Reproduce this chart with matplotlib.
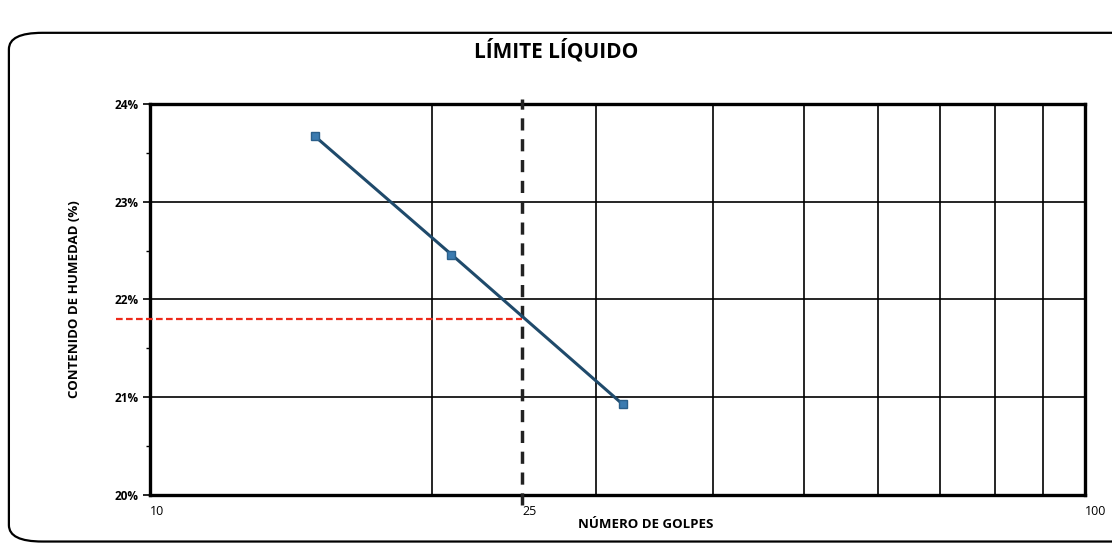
import matplotlib.pyplot as plt
from matplotlib.patches import FancyBboxPatch
from matplotlib.ticker import FixedLocator, NullFormatter

# data
golpes = [15, 21, 32]
humedad = [23.67, 22.46, 20.93]
n_ref = 25
limite_liquido = 21.8

x_grid = [20, 30, 40, 50, 60, 70, 80, 90]
y_ticks = [20, 21, 22, 23, 24]
y_labels = ['20%', '21%', '22%', '23%', '24%']

plt.rcParams['font.family'] = ['Open Sans', 'DejaVu Sans']

fig = plt.figure(figsize=(11.12, 5.47), dpi=100)
fig.patches.append(FancyBboxPatch((0.008, 0.01), 1.05, 0.93, boxstyle='round,pad=0,rounding_size=0.03',
                                  transform=fig.transFigure, fill=False, ec='black', lw=1.6))
fig.text(0.5, 0.908, 'LÍMITE LÍQUIDO', ha='center', va='center', fontsize=15, fontweight='bold')

ax = fig.add_axes([0.135, 0.095, 0.841, 0.715])
ax.set_xscale('log')
ax.set_xlim(10, 100)
ax.set_ylim(20, 24)

for xv in x_grid:
    ax.axvline(xv, color='black', lw=1.2, zorder=1)
for yv in y_ticks[1:-1]:
    ax.axhline(yv, color='black', lw=1.2, zorder=1)

ax.plot(golpes, humedad, color='#1f4a6b', lw=2.2, marker='s', ms=6,
        mfc='#3b7bb0', mec='#2a5f8a', zorder=4)

# liquid limit guides
ax.plot([n_ref, n_ref], [19.9, 24.05], color='#222222', lw=2.5, ls=(0, (3.5, 2.5)),
        clip_on=False, zorder=3)
ax.plot([9.2, n_ref], [limite_liquido, limite_liquido], color='#ee2a1a', lw=1.6,
        ls=(0, (3, 1.5)), clip_on=False, zorder=3)

ax.xaxis.set_major_locator(FixedLocator([10, n_ref, 100]))
ax.xaxis.set_minor_locator(FixedLocator([]))
ax.xaxis.set_minor_formatter(NullFormatter())
ax.set_xticks([10, n_ref, 100])
ax.set_xticklabels(['10', '25', '100'], fontsize=9)
ax.tick_params(axis='x', length=0, pad=7)
for lbl in ax.get_xticklabels():
    lbl.set_horizontalalignment('left')

ax.set_yticks(y_ticks)
ax.set_yticklabels(y_labels, fontsize=8.5, fontweight='bold')
ax.set_yticks([20.5, 21.5, 22.5, 23.5], minor=True)
ax.tick_params(axis='y', which='major', length=5, width=1.2, direction='out')
ax.tick_params(axis='y', which='minor', length=3, width=1.0, direction='out')

for sp in ax.spines.values():
    sp.set_linewidth(2.4)
    sp.set_color('black')

ax.set_xlabel('NÚMERO DE GOLPES', fontsize=9.5, fontweight='bold', labelpad=0, x=0.53)
ax.set_ylabel('CONTENIDO DE HUMEDAD (%)', fontsize=9.5, fontweight='bold', labelpad=24)

fig.savefig('out.png', dpi=100)
